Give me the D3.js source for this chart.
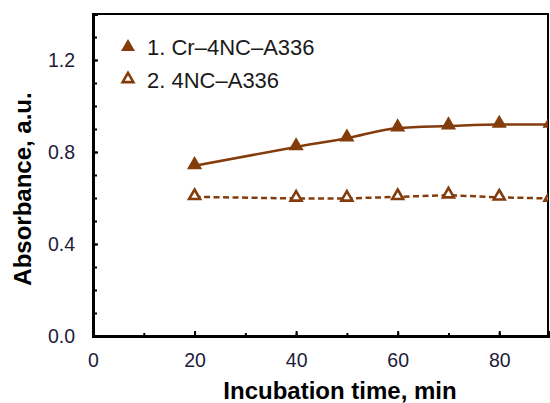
<!DOCTYPE html>
<html>
<head>
<meta charset="utf-8">
<script src="https://cdn.jsdelivr.net/npm/d3@7"></script>
<style>
  body { margin: 0; background: #fff; }
  text { font-family: "Liberation Sans", Arial, sans-serif; }
</style>
</head>
<body>
<div id="chart"></div>
<script>
// incubation time, min
const times = [20, 40, 50, 60, 70, 80, 90];
// 1. Cr–4NC–A336
const crValues = [0.74, 0.822, 0.86, 0.904, 0.913, 0.92, 0.92];
// 2. 4NC–A336
const ncValues = [0.605, 0.598, 0.598, 0.605, 0.612, 0.603, 0.598];
const seriesNames = ["1. Cr\u20134NC\u2013A336", "2. 4NC\u2013A336"];
const xTicks = [0, 20, 40, 60, 80];
const yTicks = [0.0, 0.4, 0.8, 1.2];

const svgWidth = 550,
  svgHeight = 403,
  margin = { top: 14, right: 2, bottom: 67, left: 93 },
  width = svgWidth - margin.left - margin.right,
  height = svgHeight - margin.top - margin.bottom;

const brown = "#843c0c";

let x = d3.scaleLinear().domain([0, 89.6]).range([0, width]),
  y = d3.scaleLinear().domain([0, 1.4]).range([height, 0]);

let svg = d3
  .select("#chart")
  .append("svg")
  .attr("width", svgWidth)
  .attr("height", svgHeight);

svg
  .append("defs")
  .append("clipPath")
  .attr("id", "clip")
  .append("rect")
  .attr("width", width)
  .attr("height", height);

let g = svg
  .append("g")
  .attr("transform", "translate(" + margin.left + "," + margin.top + ")");

// frame
g.append("rect")
  .attr("width", width)
  .attr("height", height)
  .attr("fill", "none")
  .attr("stroke", "#000")
  .attr("stroke-width", 2);

// minor ticks, inward
let xMinor = d3.axisBottom(x).tickValues(d3.range(10, 90, 10)).tickSize(-3).tickFormat("");
let yMinor = d3.axisLeft(y).tickValues(d3.range(0.1, 1.4, 0.1)).tickSize(-4).tickFormat("");

g.append("g")
  .attr("transform", "translate(0," + height + ")")
  .call(xMinor)
  .call(a => a.select(".domain").remove())
  .selectAll("line").attr("stroke", "#000").attr("stroke-width", 2);

g.append("g")
  .call(yMinor)
  .call(a => a.select(".domain").remove())
  .selectAll("line").attr("stroke", "#000").attr("stroke-width", 2);

// major axes
let xAxis = d3.axisBottom(x).tickValues(xTicks).tickSize(-5).tickPadding(17).tickFormat(d3.format("d"));
let yAxis = d3.axisLeft(y).tickValues(yTicks).tickSize(-5).tickPadding(18).tickFormat(d3.format(".1f"));

let gx = g.append("g")
  .attr("transform", "translate(0," + height + ")")
  .call(xAxis);
let gy = g.append("g").call(yAxis);

[gx, gy].forEach(a => {
  a.select(".domain").attr("stroke", "#000").attr("stroke-width", 3);
  a.selectAll(".tick line").attr("stroke", "#000").attr("stroke-width", 2);
  a.selectAll(".tick text")
    .attr("fill", "#1c1c3a")
    .style("font-size", "19.5px")
    .style("font-family", "'Liberation Sans', Arial, sans-serif");
});

// axis titles
svg.append("text")
  .attr("x", 340)
  .attr("y", 399)
  .attr("text-anchor", "middle")
  .style("font-size", "24px")
  .style("font-weight", "bold")
  .text("Incubation time, min");

svg.append("text")
  .attr("transform", "translate(31,189) rotate(-90)")
  .attr("text-anchor", "middle")
  .style("font-size", "24px")
  .style("font-weight", "bold")
  .text("Absorbance, a.u.");

// series
let plot = g.append("g").attr("clip-path", "url(#clip)");

let line = d3
  .line()
  .x((d, i) => x(times[i]))
  .y(d => y(d));

plot.append("path")
  .datum(crValues)
  .attr("fill", "none")
  .attr("stroke", brown)
  .attr("stroke-width", 2.5)
  .attr("d", line.curve(d3.curveMonotoneX));

plot.append("path")
  .datum(ncValues)
  .attr("fill", "none")
  .attr("stroke", brown)
  .attr("stroke-width", 2.5)
  .attr("stroke-dasharray", "6,3.5")
  .attr("d", line.curve(d3.curveLinear));

const tri = d3.symbol().type(d3.symbolTriangle);

plot.selectAll(".cr")
  .data(crValues)
  .enter()
  .append("path")
  .attr("class", "cr")
  .attr("d", tri.size(100))
  .attr("transform", (d, i) => "translate(" + x(times[i]) + "," + (y(d) - 1) + ")")
  .attr("fill", brown);

plot.selectAll(".nc")
  .data(ncValues)
  .enter()
  .append("path")
  .attr("class", "nc")
  .attr("d", tri.size(52))
  .attr("transform", (d, i) => "translate(" + x(times[i]) + "," + (y(d) - 1) + ")")
  .attr("fill", "#fff")
  .attr("stroke", brown)
  .attr("stroke-width", 2.6);

// legend
let legend = svg.append("g");
legend.append("path")
  .attr("d", tri.size(85))
  .attr("transform", "translate(128,47)")
  .attr("fill", brown);
legend.append("path")
  .attr("d", tri.size(50))
  .attr("transform", "translate(128,79)")
  .attr("fill", "#fff")
  .attr("stroke", brown)
  .attr("stroke-width", 2.6);

legend.selectAll(".lt")
  .data(seriesNames)
  .enter()
  .append("text")
  .attr("x", 147)
  .attr("y", (d, i) => 55 + i * 33)
  .attr("fill", "#1a1a1a")
  .style("font-size", "22px")
  .text(d => d);
</script>
</body>
</html>
